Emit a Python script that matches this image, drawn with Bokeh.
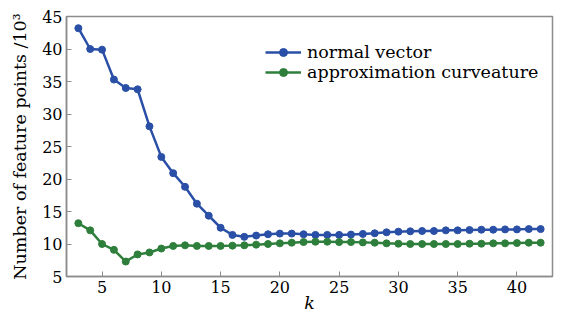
from bokeh.plotting import figure
from bokeh.models import Range1d, FixedTicker, Legend, LegendItem
from bokeh.embed import file_html
from bokeh.resources import INLINE

k = list(range(3, 43))
normal_vector = [43.2, 40.0, 39.9, 35.3, 34.0, 33.8, 28.1, 23.4, 20.9, 18.8,
                 16.2, 14.35, 12.5, 11.4, 11.1, 11.3, 11.5, 11.6, 11.6, 11.5,
                 11.4, 11.4, 11.4, 11.45, 11.55, 11.65, 11.8, 11.9, 11.95, 12.0,
                 12.0, 12.1, 12.1, 12.15, 12.2, 12.2, 12.25, 12.25, 12.3, 12.3]
approx_curv = [13.2, 12.1, 10.0, 9.1, 7.3, 8.4, 8.7, 9.3, 9.7, 9.8,
               9.7, 9.7, 9.7, 9.75, 9.8, 9.9, 10.0, 10.1, 10.2, 10.3,
               10.35, 10.35, 10.3, 10.3, 10.25, 10.2, 10.1, 10.05, 10.0, 10.0,
               10.0, 10.0, 10.0, 10.05, 10.05, 10.1, 10.1, 10.15, 10.2, 10.2]
x_ticks = [5, 10, 15, 20, 25, 30, 35, 40]
y_ticks = [5, 10, 15, 20, 25, 30, 35, 40, 45]

BLUE = "#2a4fa6"
GREEN = "#2f7f3c"
FONT = "DejaVu Serif"

p = figure(width=554, height=316, output_backend="svg", toolbar_location=None,
           x_range=Range1d(2, 43), y_range=Range1d(5, 45),
           min_border_left=66, min_border_top=16, min_border_right=2, min_border_bottom=40)

r1 = p.line(k, normal_vector, line_color=BLUE, line_width=2.5)
c1 = p.scatter(k, normal_vector, size=7, fill_color=BLUE, line_color=BLUE)
r2 = p.line(k, approx_curv, line_color=GREEN, line_width=2.5)
c2 = p.scatter(k, approx_curv, size=7, fill_color=GREEN, line_color=GREEN)

p.xgrid.visible = False
p.ygrid.visible = False
p.outline_line_color = "#8c8c8c"
p.outline_line_width = 1.5

for ax in (p.xaxis[0], p.yaxis[0]):
    ax.axis_line_color = "#8c8c8c"
    ax.axis_line_width = 1.5
    ax.major_tick_line_color = "#8c8c8c"
    ax.major_tick_in = 5
    ax.major_tick_out = 0
    ax.minor_tick_line_color = None
    ax.major_label_text_font = FONT
    ax.major_label_text_font_size = "16px"
    ax.major_label_text_color = "black"
    ax.axis_label_text_font = FONT
    ax.axis_label_text_color = "black"
    ax.axis_label_text_font_size = "17.5px"

p.xaxis.ticker = FixedTicker(ticks=x_ticks)
p.yaxis.ticker = FixedTicker(ticks=y_ticks)
p.xaxis.major_label_standoff = 4
p.yaxis.major_label_standoff = 4
p.xaxis.axis_label = "k"
p.xaxis.axis_label_text_font_style = "italic"
p.xaxis.axis_label_standoff = -3
p.yaxis.axis_label = "Number of feature points /10³"
p.yaxis.axis_label_text_font_style = "normal"
p.yaxis.axis_label_standoff = 9

legend = Legend(items=[LegendItem(label="normal vector", renderers=[r1, c1]),
                       LegendItem(label="approximation curveature", renderers=[r2, c2])],
                location=(199, 194), border_line_color=None, background_fill_alpha=0,
                padding=0, margin=0, spacing=0, glyph_width=36, glyph_height=20,
                label_height=20, label_standoff=6, label_text_color="black",
                label_text_font=FONT, label_text_font_size="17.5px")
p.add_layout(legend)

open("out.html", "w").write(file_html(p, INLINE))
